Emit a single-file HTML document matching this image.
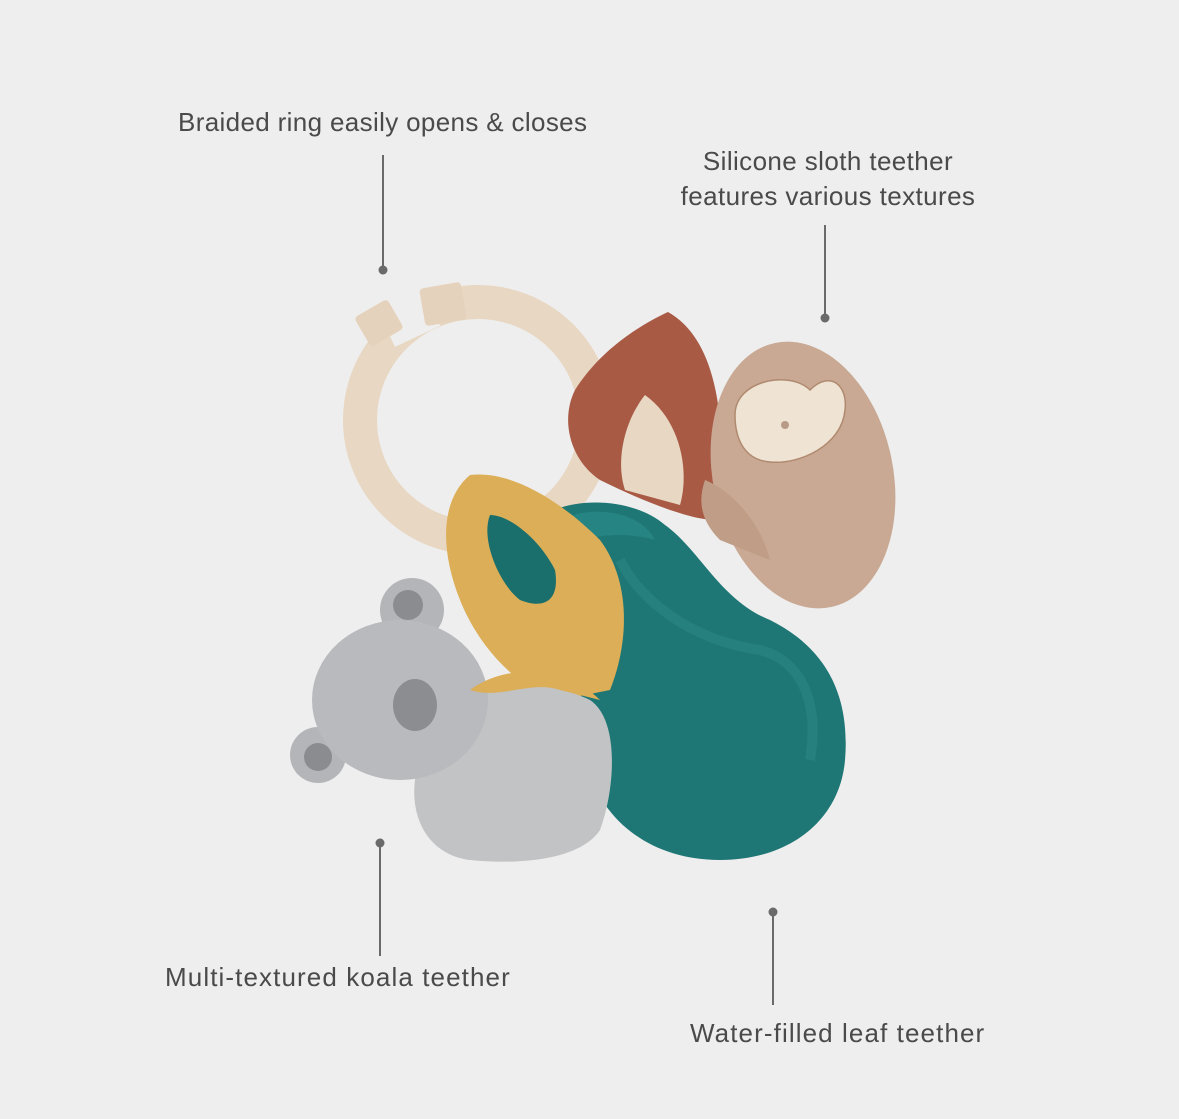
<!DOCTYPE html>
<html><head><style>
html,body{margin:0;padding:0;background:#eeeeee;}
body{width:1179px;height:1119px;position:relative;overflow:hidden;font-family:"Liberation Sans",sans-serif;color:#4a4a4a;}
.t{position:absolute;font-size:26px;white-space:nowrap}
</style></head><body>
<svg width="1179" height="1119" style="position:absolute;left:0;top:0">
 <g stroke="#6a6a6a" stroke-width="2" fill="#6a6a6a">
  <line x1="383" y1="155" x2="383" y2="269"/><circle cx="383" cy="270" r="4.5" stroke="none"/>
  <line x1="825" y1="225" x2="825" y2="318"/><circle cx="825" cy="318" r="4.5" stroke="none"/>
  <line x1="380" y1="843" x2="380" y2="956"/><circle cx="380" cy="843" r="4.5" stroke="none"/>
  <line x1="773" y1="912" x2="773" y2="1005"/><circle cx="773" cy="912" r="4.5" stroke="none"/>
 </g>
 <circle cx="478" cy="420" r="118" fill="none" stroke="#e8d7c2" stroke-width="34"/>
 <rect x="385" y="302" width="50" height="36" fill="#eeeeee" transform="rotate(-25 410 320)"/>
 <rect x="360" y="306" width="38" height="34" rx="4" fill="#e5d2bc" transform="rotate(-30 379 323)"/>
 <rect x="422" y="285" width="42" height="38" rx="4" fill="#e5d2bc" transform="rotate(-10 443 304)"/>
 <path d="M668 312 C700 330 715 370 720 420 L715 520 C690 520 640 500 600 480 C570 460 560 420 575 390 C600 350 640 325 668 312Z" fill="#a85a45"/>
 <path d="M645 395 C625 420 615 460 625 490 L680 505 C690 470 680 420 645 395Z" fill="#e8d7c2"/>
 <ellipse cx="803" cy="475" rx="90" ry="135" fill="#c9a993" transform="rotate(-12 803 475)"/>
 <path d="M705 480 C730 490 760 520 770 560 L720 540 C700 520 698 500 705 480Z" fill="#bf9d86"/>
 <path d="M735 415 C735 380 790 370 810 390 C830 370 848 385 845 410 C842 445 800 465 770 462 C745 460 735 440 735 415Z" fill="#efe3d3" stroke="#b08a70" stroke-width="1.5"/>
 <circle cx="785" cy="425" r="4" fill="#b89a86"/>
 <path d="M530 525 C560 495 630 495 665 525 C700 550 720 600 770 620 C830 650 850 700 845 760 C840 820 790 860 720 860 C650 860 600 820 585 760 C560 700 570 640 560 600 C548 570 520 550 530 525Z" fill="#1f7775"/>
 <path d="M560 520 C590 505 640 510 655 540 C640 535 600 530 575 545Z" fill="#2a8a88" opacity="0.7"/>
 <path d="M620 560 C640 600 690 640 760 650 C800 660 820 700 810 760" fill="none" stroke="#2e8986" stroke-width="10" opacity="0.5"/>
 <path d="M470 475 C510 470 560 500 600 540 C630 580 630 640 610 690 L560 700 C520 690 480 650 460 600 C440 550 440 500 470 475Z" fill="#dcae57"/>
 <path d="M490 515 C510 515 540 540 555 570 C560 600 545 610 520 600 C500 585 480 540 490 515Z" fill="#1a6f6d"/>
 <path d="M440 690 C480 680 550 680 590 700 C620 720 615 790 600 830 C580 860 520 865 470 860 C430 855 410 820 415 780 C420 740 420 700 440 690Z" fill="#c2c3c5"/>
 <circle cx="318" cy="755" r="28" fill="#b4b5b8"/>
 <circle cx="318" cy="757" r="14" fill="#8b8c8f"/>
 <circle cx="412" cy="610" r="32" fill="#b4b5b8"/>
 <circle cx="408" cy="605" r="15" fill="#8b8c8f"/>
 <ellipse cx="400" cy="700" rx="88" ry="80" fill="#b9babd"/>
 <ellipse cx="415" cy="705" rx="22" ry="26" fill="#8c8d90"/>
 <path d="M470 690 C500 700 530 680 560 690 L600 700 C570 670 510 660 470 690Z" fill="#dcae57"/>
</svg>
<div class="t" style="left:178px;top:107px;letter-spacing:0.35px">Braided ring easily opens &amp; closes</div>
<div class="t" style="left:668px;top:144px;width:320px;text-align:center;line-height:35px;letter-spacing:0.4px">Silicone sloth teether<br>features various textures</div>
<div class="t" style="left:165px;top:962px;letter-spacing:1.1px">Multi-textured koala teether</div>
<div class="t" style="left:690px;top:1018px;letter-spacing:1.1px">Water-filled leaf teether</div>
</body></html>
